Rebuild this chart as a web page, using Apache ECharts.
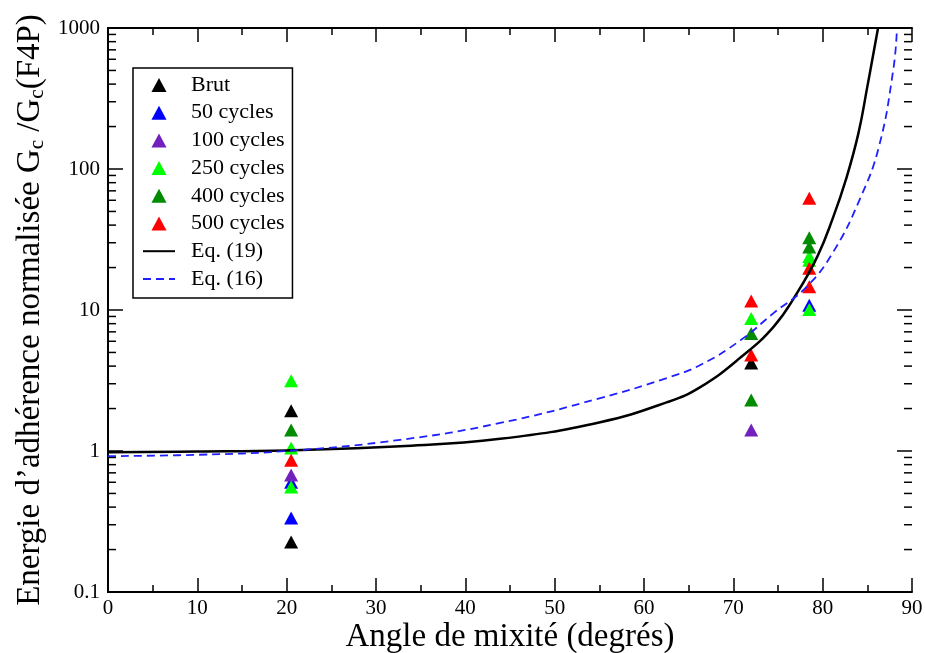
<!DOCTYPE html>
<html>
<head>
<meta charset="utf-8">
<script src="https://cdn.jsdelivr.net/npm/echarts@6/dist/echarts.min.js"></script>
<style>html,body{margin:0;padding:0;background:#fff}#c{width:925px;height:653px}</style>
</head>
<body>
<div id="c"></div>
<script>
// ---- data ----
const brut      = [[20.5, 1.93], [20.5, 0.226], [72, 4.2]];
const c50       = [[20.5, 0.6], [20.5, 0.335], [78.5, 10.8]];
const c100      = [[20.5, 0.675], [72, 1.41]];
const c250      = [[20.5, 3.15], [20.5, 1.05], [20.5, 0.555], [72, 8.7], [78.5, 24], [78.5, 22.5], [78.5, 10.1]];
const c400      = [[20.5, 1.41], [72, 6.8], [72, 2.3], [78.5, 32.5], [78.5, 28]];
const c500      = [[20.5, 0.86], [72, 11.6], [72, 4.8], [78.5, 62], [78.5, 19.8], [78.5, 14.6]];
const eq19      = [[0, 0.98], [10, 0.99], [20, 1.01], [32.7, 1.08], [43.9, 1.22], [55.1, 1.6], [62.6, 2.22], [66.3, 2.84], [70.8, 4.6], [74.5, 7.6], [77.1, 13.1], [79.4, 23.9], [81.2, 45.9], [82.6, 84], [84.0, 179], [85.0, 384], [86.2, 1000]];
const eq16      = [[0, 0.92], [10, 0.94], [20, 1.0], [32.7, 1.2], [43.9, 1.58], [55.1, 2.37], [62.6, 3.3], [66.3, 4.07], [70.8, 6.1], [74.5, 9.5], [78.2, 14.6], [81.2, 25.9], [84.2, 62], [86.3, 144], [87.9, 503], [88.3, 940]];
const scatterNames = ['Brut', '50 cycles', '100 cycles', '250 cycles', '400 cycles', '500 cycles'];
const lineNames = ['Eq. (19)', 'Eq. (16)'];
const yMajorTicks = [1, 10, 100];
const yMinorTicks = [0.2,0.3,0.4,0.5,0.6,0.7,0.8,0.9,2,3,4,5,6,7,8,9,20,30,40,50,60,70,80,90,200,300,400,500,600,700,800,900];

const FONT = '"Liberation Serif", "DejaVu Serif", serif';
const TRI = 'path://M7,0 L14,13 L0,13 Z';
const chart = echarts.init(document.getElementById('c'));

function scatter(name, data, color) {
  return { name, type: 'scatter', data, symbol: 'triangle', symbolSize: [14, 13],
    itemStyle: { color, opacity: 1 }, xAxisIndex: 0, yAxisIndex: 0 };
}
function line() { return { show: true, lineStyle: { color: '#000', width: 2 } }; }
function xTick() { return { show: true, inside: true, length: 14, lineStyle: { color: '#000', width: 1.5 } }; }
function xMinor() { return { show: true, splitNumber: 2, length: 7, lineStyle: { color: '#000', width: 1.5 } }; }

function tickSeries(values, len) {
  return {
    type: 'custom', xAxisIndex: 0, yAxisIndex: 0, silent: true, clip: false,
    data: values.map(v => [0, v]),
    renderItem: function (params, api) {
      const v = api.value(1);
      const p = api.coord([0, v]);
      const q = api.coord([90, v]);
      const st = { stroke: '#000', lineWidth: 1.5 };
      return { type: 'group', children: [
        { type: 'line', shape: { x1: p[0], y1: p[1], x2: p[0] + len, y2: p[1] }, style: st },
        { type: 'line', shape: { x1: q[0] - len, y1: q[1], x2: q[0], y2: q[1] }, style: st }
      ] };
    }
  };
}

chart.setOption({
  animation: false,
  backgroundColor: '#fff',
  grid: { left: 108, right: 13, top: 28, bottom: 61, containLabel: false, outerBoundsMode: 'none' },
  legend: {
    data: scatterNames.map(n => ({ name: n, icon: TRI }))
      .concat(lineNames.map(n => ({ name: n, itemStyle: { opacity: 0 } }))),
    orient: 'vertical', left: 133, top: 68,
    itemWidth: 32, itemHeight: 14, itemGap: 5.7, symbolKeepAspect: true,
    padding: [6, 8, 8, 9],
    borderColor: '#000', borderWidth: 1.5, backgroundColor: '#fff',
    textStyle: { fontFamily: FONT, fontSize: 22, color: '#000', padding: [0, 0, 0, 11] }
  },
  xAxis: [
    {
      type: 'value', min: 0, max: 90, interval: 10, position: 'bottom',
      axisLine: line(), axisTick: xTick(), minorTick: xMinor(), splitLine: { show: false },
      axisLabel: { fontFamily: FONT, fontSize: 21, color: '#000', margin: 6 },
      name: 'Angle de mixité (degrés)', nameLocation: 'middle', nameGap: 29, nameMoveOverlap: false,
      nameTextStyle: { fontFamily: FONT, fontSize: 33, color: '#000' }
    },
    {
      type: 'value', min: 0, max: 90, interval: 10, position: 'top',
      axisLine: line(), axisTick: xTick(), minorTick: xMinor(), splitLine: { show: false },
      axisLabel: { show: false }
    }
  ],
  yAxis: [
    {
      type: 'log', logBase: 10, min: 0.1, max: 1000, position: 'left',
      axisLine: line(), axisTick: { show: false }, splitLine: { show: false },
      axisLabel: { fontFamily: FONT, fontSize: 21, color: '#000', margin: 8,
        formatter: v => String(+v.toPrecision(3)) },
      name: 'Energie d’adhérence normalisée G{s|c} /G{s|c}(F4P)',
      nameLocation: 'middle', nameRotate: 90, nameGap: 60, nameMoveOverlap: false,
      nameTextStyle: { fontFamily: FONT, fontSize: 33, color: '#000', verticalAlign: 'bottom',
        rich: { s: { fontFamily: FONT, fontSize: 21, color: '#000', padding: [15, 0, 0, 0], verticalAlign: 'bottom' } } }
    },
    {
      type: 'log', logBase: 10, min: 0.1, max: 1000, position: 'right',
      axisLine: line(), axisTick: { show: false }, splitLine: { show: false },
      axisLabel: { show: false }
    }
  ],
  series: [
    tickSeries(yMajorTicks, 15),
    tickSeries(yMinorTicks, 8),
    scatter('Brut', brut, '#000000'),
    scatter('50 cycles', c50, '#0000ff'),
    scatter('100 cycles', c100, '#7221bc'),
    scatter('250 cycles', c250, '#00ff00'),
    scatter('400 cycles', c400, '#008b00'),
    scatter('500 cycles', c500, '#ff0000'),
    { name: 'Eq. (19)', type: 'line', data: eq19, smooth: 0.45, symbol: 'none', clip: true,
      lineStyle: { color: '#000', width: 2.5 }, itemStyle: { color: '#000' } },
    { name: 'Eq. (16)', type: 'line', data: eq16, smooth: 0.45, symbol: 'none', clip: true,
      lineStyle: { color: '#2020ff', width: 1.8, type: [8, 5] }, itemStyle: { color: '#2020ff' } }
  ]
});
</script>
</body>
</html>
